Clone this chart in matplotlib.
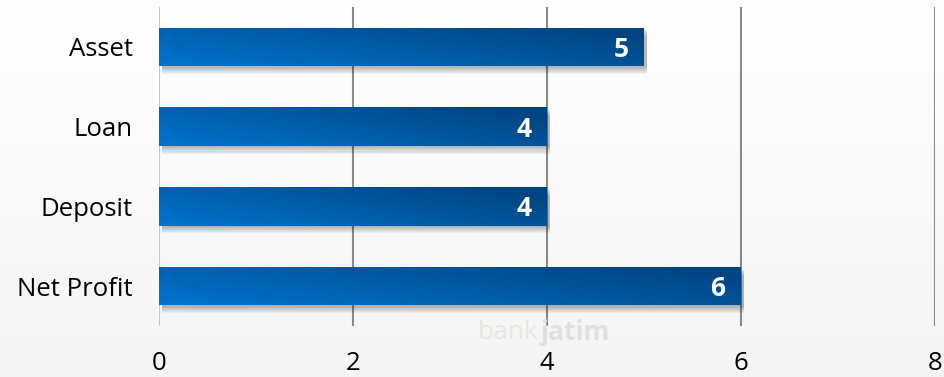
import matplotlib.pyplot as plt
import numpy as np
from matplotlib.patches import Rectangle

kategori = ['Asset', 'Loan', 'Deposit', 'Net Profit']
nilai = [5, 4, 4, 6]
x_ticks = [0, 2, 4, 6, 8]

plt.rcParams['font.family'] = ['Open Sans', 'DejaVu Sans']

fig = plt.figure(figsize=(9.44, 3.77), dpi=100, facecolor='#fbfbfb')

# fundo com leve gradiente
bg = np.linspace(1.0, 0.96, 256).reshape(-1, 1)
bg_ax = fig.add_axes([0, 0, 1, 1], zorder=-1)
bg_ax.imshow(np.dstack([bg, bg, bg]), aspect='auto', extent=[0, 1, 0, 1])
bg_ax.axis('off')

ax = fig.add_axes([159 / 944, 51 / 377, 776 / 944, 319 / 377])
ax.set_facecolor('none')

# marca d'agua
fig.text(0.506, 0.118, 'bank', fontsize=19, color='#ebe5e4', ha='left', va='center', zorder=0)
fig.text(0.573, 0.118, 'jatim', fontsize=19, color='#e0e0e0', fontweight='bold', ha='left', va='center', zorder=0)

y = np.arange(len(kategori))
altura = 0.48

# linhas de grade
for t in x_ticks:
    cor = '#c8c8c8' if t == 0 else '#8a8a8a'
    ax.axvline(t, color=cor, lw=1.5, zorder=1)

grad_x = np.linspace(0, 1, 200)
grad_y = np.linspace(0, 1, 20)
gx, gy = np.meshgrid(grad_x, grad_y)
g = np.clip(0.7 * gx + 0.4 * (1 - gy), 0, 1) / 1.1
c1 = np.array([0, 116, 206]) / 255
c2 = np.array([0, 64, 122]) / 255
img = c1[None, None, :] * (1 - g[..., None]) + c2[None, None, :] * g[..., None]

bars = ax.barh(y, nilai, height=altura, color='none', zorder=3)
for yi, v, b in zip(y, nilai, bars):
    # sombra
    for k in range(7):
        off = 0.02 + k * 0.013
        ax.add_patch(Rectangle((0.03, yi - altura / 2 + off), v, altura,
                               facecolor='black', alpha=0.045, lw=0, zorder=2))
    im = ax.imshow(img, extent=[0, v, yi + altura / 2, yi - altura / 2],
                   aspect='auto', zorder=3, interpolation='bilinear')
    im.set_clip_path(b)
    ax.text(v - 0.16, yi + 0.03, str(v), color='white', fontsize=19,
            fontweight='bold', ha='right', va='center', zorder=4)

ax.set_xlim(0, 8)
ax.set_ylim(3.5, -0.5)
ax.set_yticks(y)
ax.set_yticklabels(kategori, fontsize=18.5)
ax.set_xticks(x_ticks)
ax.set_xticklabels([str(t) for t in x_ticks], fontsize=18.5)
ax.tick_params(length=0, pad=18, axis='x')
ax.tick_params(length=0, pad=19, axis='y')
for s in ax.spines.values():
    s.set_visible(False)

fig.savefig('out.png', dpi=100, facecolor=fig.get_facecolor())
